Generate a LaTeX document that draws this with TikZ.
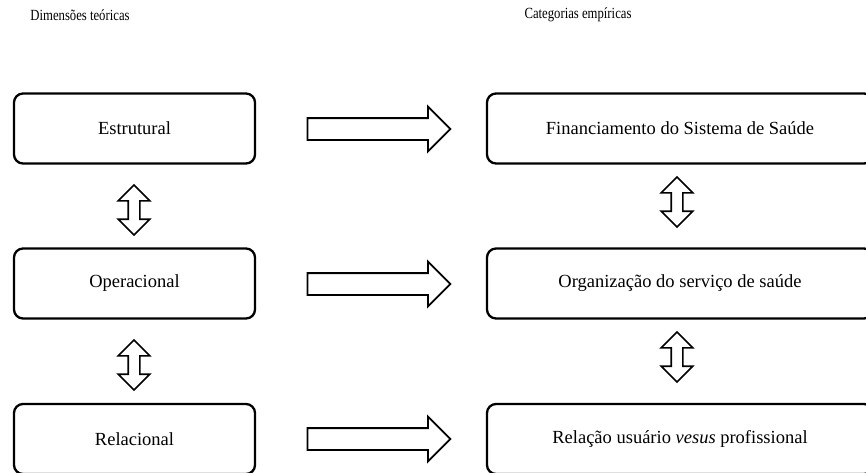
\documentclass[tikz,border=0pt]{standalone}
\usepackage{fontspec}
\setmainfont{Liberation Serif}
\newfontfamily\titlefont[FakeStretch=0.82]{Liberation Serif}
\usetikzlibrary{shapes.arrows}

\begin{document}
\begin{tikzpicture}[x=1pt, y=-1pt]
        \clip (0,0) rectangle (866,472);
        \begin{scope}[every node/.style = {font=\titlefont\fontsize{15.5}{17}\selectfont}]
            \node (T) at (80,15) {Dimensões teóricas};
            \node (C) at (578,15) {Categorias empíricas};
        \end{scope}
        \begin{scope}[every node/.style = {draw, line width=2.3pt, rounded corners=9pt, minimum height=70pt, font=\fontsize{18.5}{21}\selectfont}]
            \node[minimum width=241pt] (E) at (134.5,128.5) {Estrutural};
            \node[minimum width=241pt] (O) at (134.5,283.5) {Operacional};
            \node[minimum width=241pt] (R) at (134.5,439) {Relacional};
            \node[minimum width=386pt] (F) at (680,128.5) {Financiamento do Sistema de Saúde};
            \node[minimum width=386pt] (G) at (680,283.5) {Organização do serviço de saúde};
            \node[minimum width=386pt] (U) at (680,439) {Relação usuário \textit{vesus} profissional};
        \end{scope}
        \begin{scope}[every node/.style = {single arrow, draw, line width=1.8pt, inner sep=10pt, single arrow head extend=11.5pt, minimum height=143pt}]
            \node (EF) at (373.5,129) {};
            \node (OG) at (373.5,284) {};
            \node (RU) at (373.5,439) {};
        \end{scope}
        \begin{scope}[every node/.style = {double arrow, draw, line width=1.6pt, shape border rotate=90, inner sep=5pt, double arrow head extend=10pt, minimum height=50pt}]
            \node (EO) at (134,210) {};
            \node (OR) at (134,365) {};
            \node (FG) at (677,202) {};
            \node (GU) at (677,357) {};
        \end{scope}
    \end{tikzpicture}
\end{document}
